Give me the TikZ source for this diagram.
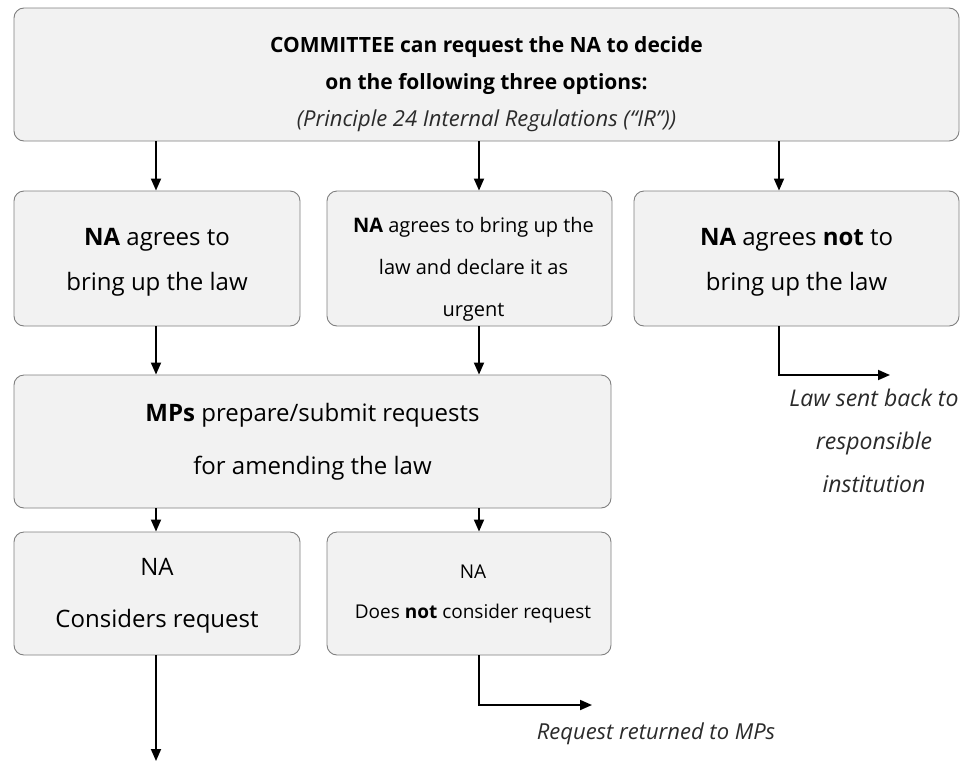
\documentclass[tikz,border=0pt]{standalone}
\usepackage{fontspec}
\setmainfont{Open Sans}
\usetikzlibrary{arrows.meta}
\definecolor{boxfill}{HTML}{F2F2F2}
\definecolor{boxline}{HTML}{7F7F7F}
\definecolor{notegray}{HTML}{2A2A2A}
\tikzset{
  stepbox/.style={draw=boxline, fill=boxfill, line width=0.9pt, rounded corners=10pt,
    align=center, inner sep=0pt, text=black},
  flow/.style={line width=1.8pt, -{Triangle[length=12pt,width=10pt]}},
  note/.style={font=\fontsize{23}{43}\selectfont\itshape, text=notegray, align=center}
}
\begin{document}
\begin{tikzpicture}[x=1pt,y=-1pt]
\useasboundingbox (0,0) rectangle (968,763);

% columns used by the connectors
\coordinate (c1) at (156,0);
\coordinate (c2) at (479,0);
\coordinate (c3) at (779,0);

% the strut on the first line lowers the text block inside the box
\node[stepbox, minimum width=945pt, minimum height=133pt,
      font=\fontsize{21}{37}\selectfont] (top) at (486.5,74.5)
  {\rule{0pt}{36pt}\textbf{COMMITTEE can request the NA to decide}\\
   \textbf{on the following three options:}\\
   {\fontsize{22}{37}\selectfont\itshape\color{notegray}(Principle 24 Internal Regulations (“IR”))}};

\node[stepbox, minimum width=286pt, minimum height=135pt,
      font=\fontsize{24}{45}\selectfont] (agree) at (157,258.5)
  {\rule{0pt}{24pt}\textbf{NA} agrees to\\bring up the law};
\node[stepbox, minimum width=285pt, minimum height=135pt,
      font=\fontsize{20}{42}\selectfont] (urgent) at (469.5,258.5)
  {\rule{0pt}{36pt}\hspace*{8pt}\textbf{NA} agrees to bring up the\\\hspace*{8pt}law and declare it as\\\hspace*{8pt}urgent};
\node[stepbox, minimum width=325pt, minimum height=135pt,
      font=\fontsize{24}{45}\selectfont] (refuse) at (796.5,258.5)
  {\rule{0pt}{24pt}\textbf{NA} agrees \textbf{not} to\\bring up the law};

\node[stepbox, minimum width=597pt, minimum height=133pt,
      font=\fontsize{24}{53}\selectfont] (mps) at (312.5,441.5)
  {\textbf{MPs} prepare/submit requests\\for amending the law};

\node[stepbox, minimum width=286pt, minimum height=123pt,
      font=\fontsize{24}{52}\selectfont] (consider) at (157,593.5)
  {\rule{0pt}{22pt}NA\\Considers request};
\node[stepbox, minimum width=284pt, minimum height=123pt,
      font=\fontsize{19}{40}\selectfont] (noconsider) at (469,593.5)
  {\hspace*{8pt}NA\\\hspace*{8pt}Does \textbf{not} consider request};

% loose ends
\coordinate (backend) at (890,375);
\coordinate (retend) at (592,705);
\coordinate (downend) at (156,761);

\node[note] (backnote) at (874,441) {Law sent back to\\responsible\\institution};
\node[note, font=\fontsize{22}{27}\selectfont\itshape] (retnote) at (656,734) {Request returned to MPs};

% connectors
\draw[flow] (top.south -| c1) -- (agree.north -| c1);
\draw[flow] (top.south -| c2) -- (urgent.north -| c2);
\draw[flow] (top.south -| c3) -- (refuse.north -| c3);
\draw[flow] (refuse.south -| c3) |- (backend);
\draw[flow] (agree.south -| c1) -- (mps.north -| c1);
\draw[flow] (urgent.south -| c2) -- (mps.north -| c2);
\draw[flow] (mps.south -| c1) -- (consider.north -| c1);
\draw[flow] (mps.south -| c2) -- (noconsider.north -| c2);
\draw[flow] (consider.south -| c1) -- (downend);
\draw[flow] (noconsider.south -| c2) |- (retend);
\end{tikzpicture}
\end{document}
